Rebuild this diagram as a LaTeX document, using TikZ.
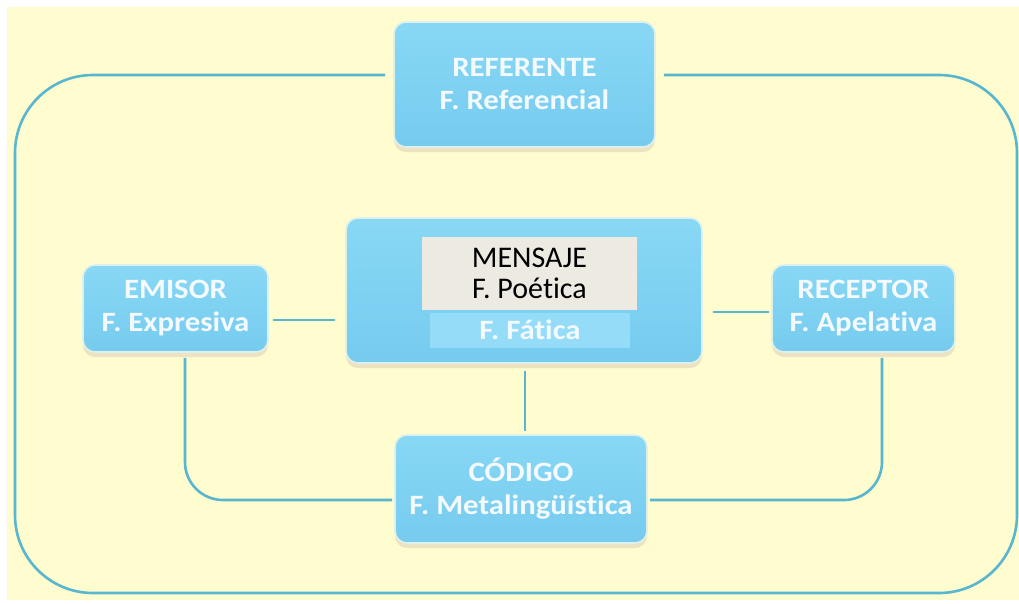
\documentclass[tikz,border=0pt]{standalone}
\usepackage{fontspec}
\setmainfont[Ligatures=NoCommon]{Carlito}
\newfontfamily\widefont[Ligatures=NoCommon,FakeStretch=1.1]{Carlito}
\usetikzlibrary{calc,shadows}
\definecolor{bgyellow}{RGB}{255,252,207}
\definecolor{boxtop}{RGB}{136,216,245}
\definecolor{boxbot}{RGB}{118,203,238}
\definecolor{boxedge}{RGB}{222,240,235}
\definecolor{linecol}{RGB}{88,182,208}
\definecolor{greyin}{RGB}{237,234,226}
\definecolor{band}{RGB}{148,220,247}
\definecolor{txtwhite}{RGB}{244,250,255}
\tikzset{
  bluebox/.style={rectangle, rounded corners=12pt, draw=boxedge, line width=1.6pt,
    top color=boxtop, bottom color=boxbot,
    drop shadow={shadow xshift=0pt, shadow yshift=-5pt, fill=black!30!brown!35, opacity=0.45},
    align=center, text=txtwhite, font=\widefont\bfseries\fontsize{28}{33}\selectfont, inner sep=0pt},
  conn/.style={draw=linecol, line width=2.6pt},
}
\begin{document}
\begin{tikzpicture}[x=1pt,y=-1pt]
\useasboundingbox (0,0) rectangle (1019,603);
\fill[white] (0,0) rectangle (1019,603);
\fill[bgyellow] (7,7) rectangle (1019,600);

% boxes
\node[bluebox, minimum width=261pt, minimum height=125pt] (referente) at (524.5,84.5) {REFERENTE\\F. Referencial};
\node[bluebox, minimum width=356pt, minimum height=145pt] (mensaje) at (524,290.5) {};
\node[bluebox, minimum width=185pt, minimum height=87pt] (emisor) at (175.5,308.5) {EMISOR\\F. Expresiva};
\node[bluebox, minimum width=183pt, minimum height=87pt] (receptor) at (863.5,308.5) {RECEPTOR\\F. Apelativa};
\node[bluebox, minimum width=252pt, minimum height=108pt] (codigo) at (521,489) {CÓDIGO\\F. Metalingüística};

% inside mensaje
\node[rectangle, fill=band, minimum width=200pt, minimum height=35pt, inner sep=0pt,
      text=txtwhite, font=\widefont\bfseries\fontsize{28}{33}\selectfont] (fatica) at (530,330) {F. Fática};
\node[rectangle, fill=greyin, minimum width=215pt, minimum height=73pt, inner sep=0pt,
      align=center, text=black, font=\fontsize{30}{31}\selectfont] (poetica) at (529.5,273.5) {MENSAJE\\F. Poética};

% connectors
\draw[conn, rounded corners=78pt] ($(referente.west)+(-8,-9.5)$) -- (15,75) -- (15,593) -- (1017,593) -- (1017,75) -- ($(referente.east)+(8,-9.5)$);
\draw[conn] ($(emisor.east)+(4,11.5)$) -- ($(mensaje.west)+(-10,29.5)$);
\draw[conn] ($(mensaje.east)+(10,21.5)$) -- ($(receptor.west)+(-2,3.5)$);
\draw[conn] ($(mensaje.south)+(1,7)$) -- ($(codigo.north)+(4,-3)$);
\draw[conn, rounded corners=38pt] ($(emisor.south)+(9.5,5)$) -- (185,500) -- ($(codigo.west)+(-2,11)$);
\draw[conn, rounded corners=38pt] ($(receptor.south)+(18.5,5)$) -- (882,500) -- ($(codigo.east)+(2,11)$);
\end{tikzpicture}
\end{document}
